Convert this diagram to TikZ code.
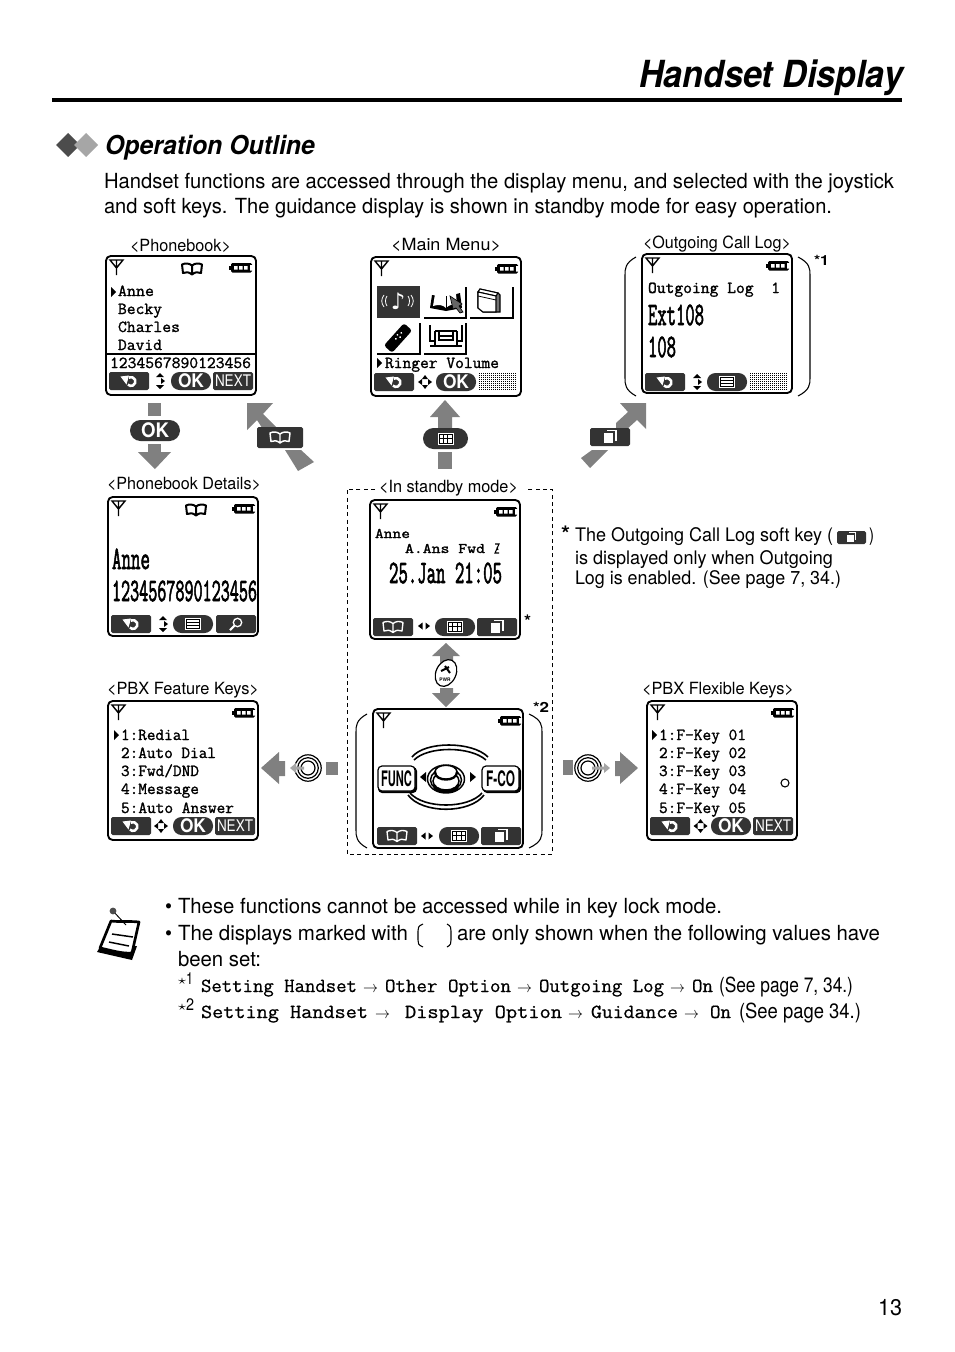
\documentclass[tikz,border=0pt]{standalone}
\usepackage{fontspec}
\usepackage{graphicx}
\setmainfont{TeX Gyre Heros}
\newfontfamily\symf{DejaVu Sans}
\newfontfamily\scrmono[FakeBold=1.3]{Latin Modern Mono}
\newfontfamily\bgmono[FakeBold=2.6]{Latin Modern Mono}
\newfontfamily\ntmono[FakeBold=.7]{Latin Modern Mono}
\newdimen\pxu \pxu=0.75pt
\definecolor{arrgray}{HTML}{808080}
\definecolor{keydark}{HTML}{333333}
\newcounter{tn}
\tikzset{
 txt/.style={anchor=base west,inner sep=0pt,outer sep=0pt,text=black},
 scr/.style={draw=black,line width=1.4pt,rounded corners=3.5pt,fill=white,anchor=north west,minimum width=150\pxu,minimum height=139\pxu,inner sep=0pt,outer sep=0pt},
 blk/.style={fill=arrgray,draw=none},
 keyd/.style={fill=keydark,draw=none,rounded corners=1.2pt}
}
% x y font width text
\newcommand\tx[5]{\stepcounter{tn}\node[txt] (t\thetn) at (#1,#2) {#3\resizebox{#4\pxu}{\height}{#5}};}
\newcommand\bodyf{\fontsize{15.6}{18}\selectfont}
\newcommand\lbl{\fontsize{12.6}{15}\selectfont}
\newcommand\scrf{\fontsize{12.6}{15}\selectfont\scrmono}
\newcommand\bigf{\fontsize{24.5}{28}\selectfont\bgmono}
\newcommand\notef{\fontsize{15}{18}\selectfont\ntmono}
% icons, relative to the centre of a key
\newcommand\icoret{\draw[white,line width=1.9pt] ([shift={(-115:4.4)}]2,0.5) arc[start angle=-115,delta angle=250,radius=4.4];\fill[white] (-8.5,-4.5) -- (0,-5.5) -- (-2.5,3.5) -- cycle;}
\newcommand\icobook[2]{\draw[#1,line width=#2,line join=round] (0,-3.5) .. controls (-3,-6) and (-7,-6) .. (-10,-4.5) -- (-9,4) .. controls (-6,2.5) and (-3,3) .. (0,5.5) .. controls (3,3) and (6,2.5) .. (9,4) -- (10,-4.5) .. controls (7,-6) and (3,-6) .. (0,-3.5) -- (0,5.5);}
\newcommand\icogrid{\fill[white] (-8,-6) rectangle (8,6);\draw[black,line width=.7pt] (-6.5,-4.5) rectangle (6.5,4.5) (-6.5,-.5) -- (6.5,-.5) (-2.2,-4.5) -- (-2.2,4.5) (2.2,-4.5) -- (2.2,4.5);}
\newcommand\icolist{\fill[white] (-8,-6) rectangle (8,6);\draw[black,line width=.7pt] (-6.5,-4.5) rectangle (6.5,4.5) (-6.5,-1.5) -- (6.5,-1.5) (-6.5,1.5) -- (6.5,1.5);}
\newcommand\icocopy{\fill[white] (-6,-4) rectangle (3,6);\draw[white,line width=.9pt] (-3,-6.5) -- (6,-6.5) -- (6,3.5);}
\newcommand\icomag{\draw[white,line width=1pt] (1.5,-1.5) circle (4.2);\draw[white,line width=1.6pt] (-1.5,1.5) -- (-6,6);}
\newcommand\icotxt[1]{\node[inner sep=0pt,text=white] at (0,0) {\fontsize{12}{14}\selectfont\resizebox{36\pxu}{\height}{#1}};}
\newcommand\icook{\node[inner sep=0pt,text=white] at (0,0) {\fontsize{14}{16}\selectfont\bfseries\resizebox{26\pxu}{\height}{OK}};}
% keys: x y icon
\newcommand\kyrect[3]{\fill[keyd] (#1,#2) rectangle ++(40,18);\begin{scope}[shift={(#1+20,#2+9)}]#3\end{scope}}
\newcommand\kypill[3]{\fill[keydark,rounded corners=8.5\pxu] (#1,#2) rectangle ++(40,18);\begin{scope}[shift={(#1+20,#2+9)}]#3\end{scope}}
% direction marks, centre
\newcommand\dirud[2]{\begin{scope}[shift={(#1,#2)}]\fill (-4,-4) -- (4,-4) -- (0,-8) -- cycle (-4,4) -- (4,4) -- (0,8) -- cycle (1,-3) -- (5,0) -- (1,3) -- cycle;\end{scope}}
\newcommand\dirall[2]{\begin{scope}[shift={(#1,#2)}]\fill (-3,-3) -- (3,-3) -- (0,-7) -- cycle (-3,3) -- (3,3) -- (0,7) -- cycle (3,-3) -- (7,0) -- (3,3) -- cycle (-3,-3) -- (-7,0) -- (-3,3) -- cycle;\end{scope}}
\newcommand\dirlr[2]{\begin{scope}[shift={(#1,#2)}]\fill (1.5,-3.5) -- (6,0) -- (1.5,3.5) -- cycle (-1.5,-3.5) -- (-6,0) -- (-1.5,3.5) -- cycle;\end{scope}}
\newcommand\dither[2]{\begin{scope}[shift={(#1,#2)}]\foreach \i in {0,2,...,36}{\foreach \j in {0,2,...,16}{\fill[black] (\i,\j) rectangle ++(1.3,1.3);}}\end{scope}}
\newcommand\selmark[2]{\fill (#1,#2) -- ++(5,5) -- ++(-5,5) -- cycle;}
% screen: name x y batteryoffset
\newcommand\dscreen[4]{\node[scr] (#1) at (#2,#3) {};
 \begin{scope}[shift={(#2+4,#3+4)}]\draw[black,line width=1.05pt] (0,0) -- (13,0) -- (6.5,8) -- cycle (6.5,0) -- (6.5,15);\end{scope}
 \begin{scope}[shift={(#2+#4,#3+7)}]\fill (0,2.5) rectangle (2.5,6.5);\fill[rounded corners=1pt] (2,0) rectangle (23,9.5);\fill[white] (5,3) rectangle (8.5,6.5) (10,3) rectangle (13.5,6.5) (15,3) rectangle (18.5,6.5) (21,2) rectangle (24,7.5);\end{scope}}
\newcommand\topbook[2]{\begin{scope}[shift={(#1,#2)}]\icobook{black}{1.5pt}\end{scope}}
\newcommand\parenb[4]{\draw[black,line width=.8pt] (#1,#3) .. controls (#2,#3+6) and (#2,#3+12) .. (#2,#3+18) -- (#2,#4-18) .. controls (#2,#4-12) and (#2,#4-6) .. (#1,#4);}
\newcommand\jring[2]{\begin{scope}[shift={(#1,#2)}]\draw[black,line width=.9pt,fill=white] (0,0) circle (13.2);\draw[black,line width=.9pt] (0,0) circle (10.3);\draw[black,line width=.9pt] (0,0) circle (7);\end{scope}}
\newcommand\arrw[2]{\tx{#1}{#2}{\fontsize{12}{14}\selectfont}{15}{$\rightarrow$}}
\begin{document}
\begin{tikzpicture}[x=.75pt,y=-.75pt]
\useasboundingbox (0,0) rectangle (954,1352);
\fill[white] (0,0) rectangle (954,1352);
% header
\tx{639}{88}{\fontsize{28}{32}\selectfont\bfseries\itshape}{264}{Handset Display}
\draw[black,line width=2.4pt] (52,100) -- (902,100);
\fill[black!70] (68,133) -- (80,145) -- (68,157) -- (56,145) -- cycle;
\fill[black!35] (86,133) -- (98,145) -- (86,157) -- (74,145) -- cycle;
\tx{105}{155}{\fontsize{19.5}{22}\selectfont\bfseries\itshape}{210}{Operation Outline}
\tx{104}{189}{\bodyf}{790}{Handset functions are accessed through the display menu, and selected with the joystick}
\tx{104}{214}{\bodyf}{728}{and soft keys. The guidance display is shown in standby mode for easy operation.}
% titles
\tx{130}{251}{\lbl}{101}{<Phonebook>}
\tx{391}{250}{\lbl}{110}{<Main Menu>}
\tx{643}{248}{\lbl}{148}{<Outgoing Call Log>}
\tx{107}{489}{\lbl}{154}{<Phonebook Details>}
\tx{379}{492}{\lbl}{139}{<In standby mode>}
\tx{107}{694}{\lbl}{152}{<PBX Feature Keys>}
\tx{642}{694}{\lbl}{152}{<PBX Flexible Keys>}
% ===== Phonebook
\dscreen{phonebook}{106}{256}{123}
\topbook{192}{269}
\selmark{111}{287}
\tx{118}{296}{\scrf}{36}{Anne}
\tx{118}{314}{\scrf}{44}{Becky}
\tx{118}{332}{\scrf}{62}{Charles}
\tx{118}{350}{\scrf}{44}{David}
\draw[black,line width=1.1pt] (106,354) -- (256,354);
\tx{110}{368}{\scrf}{141}{1234567890123456}
\kyrect{109}{372}{\icoret}
\dirud{160}{381}
\kypill{171}{372}{\icook}
\kyrect{213}{372}{\icotxt{NEXT}}
% ===== Main Menu
\dscreen{mainmenu}{371}{257}{124}
\fill[keydark] (377,286) rectangle (420,318);
\node[inner sep=0pt,text=white] (note) at (398,301) {\symf\fontsize{17}{20}\selectfont ♪};
\draw[white,line width=.6pt] (387,296) .. controls (385,299) and (385,303) .. (387,306) (384,295) .. controls (381,299) and (381,303) .. (384,307);
\draw[white,line width=.6pt] (408,296) .. controls (410,299) and (410,303) .. (408,306) (411,295) .. controls (414,299) and (414,303) .. (411,307);
\draw[black,line width=1pt] (424,318) -- (466,318) -- (466,287) (470,318) -- (513,318) -- (513,287) (377,354) -- (420,354) -- (420,323) (424,354) -- (466,354) -- (466,323);
% book with pointer
\begin{scope}[shift={(446,301)}]
\fill[black] (-14,-6) -- (0,-4) -- (14,-8) -- (16,7) -- (0,10) -- (-16,7) -- cycle;
\fill[white] (-11,-7) .. controls (-7,-9) and (-3,-7) .. (0,-5) .. controls (3,-7) and (7,-8) .. (10,-7) -- (11,4) .. controls (6,3) and (3,4) .. (0,7) .. controls (-3,4) and (-7,3) .. (-13,5) -- cycle;
\draw[black,line width=.6pt] (0,-5) -- (0,7);
\fill[black!60,draw=black,line width=.5pt] (4,-5) -- (16,3) -- (13,5) -- (17,11) -- (14,12) -- (10,7) -- (7,8) -- cycle;
\end{scope}
% device
\begin{scope}[shift={(489,300)}]
\fill[black!55,draw=black,line width=.8pt] (-9,-11) -- (9,-7) -- (11,-5) -- (11,12) -- (-6,12) -- (-11,8) -- (-11,-8) -- cycle;
\fill[white,draw=black,line width=.8pt] (-11,-8) -- (-9,-11) -- (9,-7) -- (7,-4) -- cycle;
\fill[white,draw=black,line width=.8pt] (-11,-8) -- (7,-4) -- (7,12) -- (-6,12) -- (-11,8) -- cycle;
\draw[black,line width=.6pt] (-11,-4) -- (7,0);
\end{scope}
% handset
\begin{scope}[shift={(398,338)},rotate=48]
\fill[black,rounded corners=2pt] (-15,-5.5) rectangle (15,5.5);
\fill[white] (2,-2.5) circle (1) (2,1) circle (1) (6,-1) circle (1) (-2,-1) circle (1);
\end{scope}
% fax
\begin{scope}[shift={(446,336)}]
\draw[black,line width=1pt] (-16,-11) -- (-16,5) -- (-11,5) (-11,-5) -- (11,-5) (16,-11) -- (16,5) -- (11,5) (-11,-5) -- (-11,10) -- (11,10) -- (11,-5);
\draw[black,line width=1pt] (-7,-5) -- (-7,4) -- (7,4) -- (7,-5) (-7,0) -- (7,0);
\draw[black,line width=1.2pt] (-11,10) -- (-16,10) (11,10) -- (16,10);
\end{scope}
\selmark{377}{358}
\tx{385}{368}{\scrf}{114}{Ringer Volume}
\kyrect{374}{373}{\icoret}
\dirall{425}{382}
\kypill{436}{373}{\icook}
\dither{479}{373}
% ===== Outgoing
\dscreen{outgoing}{642}{254}{124}
\tx{648}{293}{\scrf}{132}{Outgoing Log~~1}
\tx{648}{325}{\bigf}{56}{Ext108}
\tx{648}{357}{\bigf}{28}{108}
\kyrect{645}{373}{\icoret}
\dirud{697}{382}
\kypill{707}{373}{\icolist}
\dither{750}{373}
\parenb{636}{625}{257}{396}
\parenb{798}{810}{257}{396}
\tx{814}{265}{\fontsize{10.5}{12}\selectfont\bfseries}{15}{*1}
% ===== Phonebook details
\dscreen{details}{108}{497}{124}
\topbook{196}{510}
\tx{112}{569}{\bigf}{38}{Anne}
\tx{112}{601}{\bigf}{145}{1234567890123456}
\kyrect{111}{615}{\icoret}
\dirud{163}{624}
\kypill{173}{615}{\icolist}
\kyrect{216}{615}{\icomag}
% ===== Standby
\draw[black,line width=.65pt,dash pattern=on 3pt off 2.5pt] (375,489) -- (347,489) -- (347,854) -- (552,854) -- (552,489) -- (527,489);
\dscreen{standby}{370}{500}{124}
\tx{375}{538}{\fontsize{11}{13}\selectfont\scrmono}{35}{Anne}
\tx{405}{553}{\fontsize{11}{13}\selectfont\scrmono}{80}{A.Ans Fwd}
\draw[black,line width=.8pt] (495,544) -- (499,544) -- (495,553) -- (499,553) (497,547) -- (498,550);
\tx{389}{583}{\bigf}{113}{25.Jan 21:05}
\kyrect{373}{618}{\icobook{white}{1pt}}
\dirlr{424}{626}
\kypill{435}{618}{\icogrid}
\kyrect{477}{618}{\icocopy}
\tx{524}{627}{\fontsize{13}{15}\selectfont\bfseries}{7}{*}
% PWR arrows
\fill[blk] (446,643) -- (460,656) -- (453,656) -- (453,663) -- (440,663) -- (440,656) -- (432,656) -- cycle;
\fill[blk] (446,707) -- (460,693) -- (453,693) -- (453,688) -- (440,688) -- (440,693) -- (432,693) -- cycle;
\begin{scope}[shift={(446,673)},rotate=-25]
\draw[black,line width=.9pt,fill=white] (0,0) ellipse (10 and 14);
\end{scope}
\draw[black,line width=1.5pt] (441,671) -- (449,667) (445,666) -- (450,673);
\node[inner sep=0pt] (pwr) at (445,679.5) {\fontsize{3.6}{4}\selectfont\bfseries PWR};
% ===== Guidance
\dscreen{guide}{373}{709}{125}
\parenb{367}{356}{714}{848}
\parenb{529}{542}{714}{848}
\tx{533}{712}{\fontsize{10.5}{12}\selectfont\bfseries}{16}{*2}
\fill[black,rounded corners=3pt] (378,767) rectangle (417,793);
\draw[black,line width=.9pt,fill=white,rounded corners=3pt] (378,766) rectangle (415,791);
\node[inner sep=0pt] (func) at (396.5,778.5) {\fontsize{16}{18}\selectfont\bfseries\resizebox{31\pxu}{\height}{FUNC}};
\fill[black,rounded corners=3pt] (483,767) rectangle (521,793);
\draw[black,line width=.9pt,fill=white,rounded corners=3pt] (482,766) rectangle (519,791);
\node[inner sep=0pt] (fco) at (500.5,778.5) {\fontsize{16}{18}\selectfont\bfseries\resizebox{29\pxu}{\height}{F-CO}};
\draw[black,line width=1.2pt] (412,757) .. controls (425,741) and (472,741) .. (488,757) (414,760) .. controls (428,746) and (470,746) .. (486,760);
\draw[black,line width=1.2pt] (408,795) .. controls (422,814) and (470,814) .. (484,795) (410,793) .. controls (424,809) and (468,809) .. (482,793);
\fill (420,777) -- (426,772) -- (426,782) -- cycle (476,777) -- (470,772) -- (470,782) -- cycle;
\begin{scope}[shift={(446,779)}]
\draw[black,line width=1.1pt] (0,0) ellipse (18.5 and 14) (0,1) ellipse (15.5 and 11.5) (0,2) ellipse (13 and 9);
\fill[white] (0,-7) ellipse (11 and 7.5);
\draw[black,line width=1.2pt] (-11,-7) .. controls (-11,-16) and (11,-16) .. (11,-7);
\draw[black,line width=1.8pt] (-11,-7) .. controls (-11,3) and (11,3) .. (11,-7);
\end{scope}
\kyrect{377}{827}{\icobook{white}{1pt}}
\dirlr{427}{836}
\kypill{439}{827}{\icogrid}
\kyrect{481}{827}{\icocopy}
% ===== PBX Feature
\dscreen{feature}{108}{701}{124}
\selmark{114}{730}
\tx{121}{740}{\scrf}{69}{1:Redial}
\tx{121}{758}{\scrf}{95}{2:Auto Dial}
\tx{121}{776}{\scrf}{78}{3:Fwd/DND}
\tx{121}{794}{\scrf}{78}{4:Message}
\tx{121}{813}{\scrf}{113}{5:Auto Answer}
\kyrect{111}{817}{\icoret}
\dirall{161}{826}
\kypill{173}{817}{\icook}
\kyrect{215}{817}{\icotxt{NEXT}}
% ===== PBX Flexible
\dscreen{flexible}{647}{701}{124}
\selmark{652}{730}
\tx{659}{740}{\scrf}{87}{1:F-Key 01}
\tx{659}{758}{\scrf}{87}{2:F-Key 02}
\tx{659}{776}{\scrf}{87}{3:F-Key 03}
\tx{659}{794}{\scrf}{87}{4:F-Key 04}
\tx{659}{813}{\scrf}{87}{5:F-Key 05}
\draw[black,line width=.8pt] (785,783) circle (4);
\kyrect{650}{817}{\icoret}
\dirall{700.5}{826}
\kypill{711}{817}{\icook}
\kyrect{753}{817}{\icotxt{NEXT}}
% ===== block arrows
\fill[blk] (148,403) rectangle (161,416);
\fill[blk] (148,444) rectangle (161,452);
\fill[blk] (138,452) -- (171,452) -- (155,469) -- cycle;
\fill[keydark,rounded corners=10.5\pxu] (130,420) rectangle (180,441);
\node[inner sep=0pt,text=white] (okkey) at (155,430.5) {\fontsize{15}{18}\selectfont\bfseries\resizebox{28\pxu}{\height}{OK}};
% book arrow
\fill[blk] (247,403) -- (273,403) -- (263,414) -- (282,433) -- (268,437) -- (257,420) -- (247,430) -- cycle;
\fill[blk] (285,450) -- (301,450) -- (314,462) -- (298,471) -- cycle;
\fill[keyd] (257,427) rectangle (303,448);
\begin{scope}[shift={(280,437.5)}]\icobook{white}{1.1pt}\end{scope}
% grid arrow
\fill[blk] (445,400) -- (460,417) -- (452,417) -- (452,430) -- (438,430) -- (438,417) -- (430,417) -- cycle;
\fill[blk] (438,452) rectangle (452,469);
\fill[keydark,rounded corners=10.5\pxu] (423,428) rectangle (468,449);
\begin{scope}[shift={(445.5,438.5)}]\icogrid\end{scope}
% copy arrow
\fill[blk] (646,403) -- (646,429) -- (637,420) -- (626,430) -- (616,430) -- (616,423) -- (628,412) -- (620,403) -- cycle;
\fill[blk] (581,458) -- (592,450) -- (608,450) -- (590,468) -- cycle;
\fill[keyd] (590,428) rectangle (630,446);
\begin{scope}[shift={(610,437)}]\icocopy\end{scope}
% left and right arrows
\fill[blk] (261,768) -- (279,752) -- (279,761) -- (285,761) -- (285,776) -- (279,776) -- (279,784) -- cycle;
\fill[blk] (326,762) rectangle (338,775);
\jring{308}{768}
\fill[black!35] (290,768) -- (296,763) -- (296,766.5) -- (304,766.5) -- (304,769.5) -- (296,769.5) -- (296,773) -- cycle;
\fill[blk] (563,760) rectangle (573,775);
\jring{588}{768}
\fill[black!35] (610,768) -- (604,763) -- (604,766.5) -- (592,766.5) -- (592,769.5) -- (604,769.5) -- (604,773) -- cycle;
\fill[blk] (638,768) -- (620,752) -- (620,761) -- (615,761) -- (615,776) -- (620,776) -- (620,784) -- cycle;
% footnote
\tx{561}{541}{\fontsize{16}{18}\selectfont\bfseries}{9}{*}
\tx{575}{541}{\fontsize{14}{17}\selectfont}{258}{The Outgoing Call Log soft key (}
\fill[keyd] (837,531) rectangle (866,544);
\begin{scope}[shift={(851.5,537.5)},scale=.72]\icocopy\end{scope}
\tx{869}{541}{\fontsize{14}{17}\selectfont}{5}{)}
\tx{575}{564}{\fontsize{14}{17}\selectfont}{258}{is displayed only when Outgoing}
\tx{575}{584}{\fontsize{14}{17}\selectfont}{266}{Log is enabled. (See page 7, 34.)}
% note icon
\fill[black] (100,947) -- (97,952) -- (132,960) -- (137,946) -- cycle;
\draw[black,line width=2pt,fill=white,line join=round] (111,921) .. controls (118,922) and (130,921) .. (139,922) -- (132,953) .. controls (122,954) and (110,950) .. (100,948) -- cycle;
\draw[black,line width=1.1pt] (112,934) -- (133,937) (109,942) -- (129,946);
\draw[black,line width=.7pt] (113,911) -- (126,925);
\fill[black!70] (113,911) circle (3.4);
% notes
\tx{165}{913}{\bodyf}{7}{•}
\tx{178}{913}{\bodyf}{544}{These functions cannot be accessed while in key lock mode.}
\tx{165}{940}{\bodyf}{7}{•}
\tx{178}{940}{\bodyf}{230}{The displays marked with}
\draw[black,line width=.8pt] (423,924) .. controls (418,926) and (418,928) .. (418,931) -- (418,940) .. controls (418,943) and (418,945) .. (423,947);
\draw[black,line width=.8pt] (447,924) .. controls (451,926) and (451,928) .. (451,931) -- (451,940) .. controls (451,943) and (451,945) .. (447,947);
\tx{457}{940}{\bodyf}{423}{are only shown when the following values have}
\tx{178}{966}{\bodyf}{83}{been set:}
\tx{178}{984}{\fontsize{10}{12}\selectfont}{8}{$\star$}
\tx{186}{984}{\fontsize{12.5}{14}\selectfont}{7}{1}
\tx{201}{992}{\notef}{156}{Setting Handset}
\arrw{363}{992}
\tx{385}{992}{\notef}{126}{Other Option}
\arrw{517}{992}
\tx{539}{992}{\notef}{125}{Outgoing Log}
\arrw{670}{992}
\tx{692}{992}{\notef}{21}{On}
\tx{719}{992}{\bodyf}{134}{(See page 7, 34.)}
\tx{178}{1010}{\fontsize{10}{12}\selectfont}{8}{$\star$}
\tx{186}{1010}{\fontsize{12.5}{14}\selectfont}{8}{2}
\tx{201}{1018}{\notef}{167}{Setting Handset}
\arrw{375}{1018}
\tx{405}{1018}{\notef}{157}{Display Option}
\arrw{568}{1018}
\tx{591}{1018}{\notef}{87}{Guidance}
\arrw{684}{1018}
\tx{710}{1018}{\notef}{21}{On}
\tx{739}{1018}{\bodyf}{122}{(See page 34.)}
\tx{878}{1315}{\fontsize{17}{20}\selectfont}{24}{13}
\end{tikzpicture}
\end{document}
